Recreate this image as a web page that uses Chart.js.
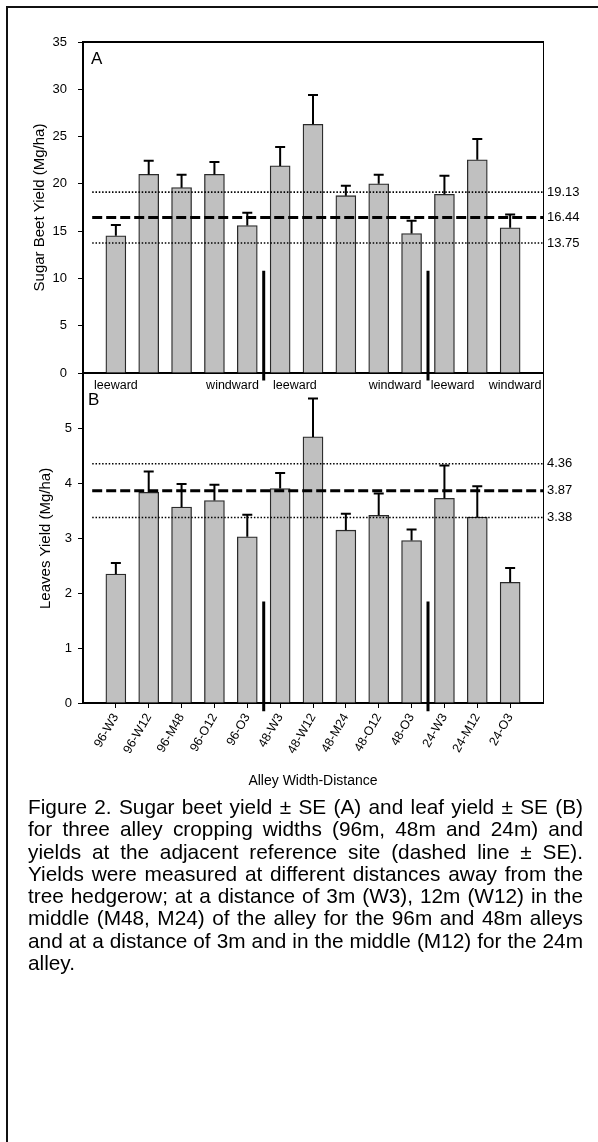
<!DOCTYPE html>
<html>
<head>
<meta charset="utf-8">
<script src="https://cdn.jsdelivr.net/npm/chart.js@4.4.1/dist/chart.umd.min.js"></script>
<style>
  html, body { margin: 0; padding: 0; background: #fff; overflow: hidden; }
  body { width: 598px; height: 1142px; position: relative; font-family: 'Liberation Sans', Arial, sans-serif; }
  .frame { position: absolute; left: 6px; top: 6px; width: 590px; height: 1136px; border-left: 2px solid #111; border-top: 2px solid #111; }
  #beetChart { position: absolute; left: 0; top: 0; }
  #leafChart { position: absolute; left: 0; top: 360px; }
  .caption { position: absolute; left: 28px; top: 796px; width: 555px; font-size: 20.8px; line-height: 22.3px; color: #000; }
  .caption div { text-align: justify; text-align-last: justify; white-space: nowrap; }
  .caption div.last { text-align-last: left; }
</style>
</head>
<body>
<div class="frame"></div>
<canvas id="beetChart" width="598" height="400"></canvas>
<canvas id="leafChart" width="598" height="440"></canvas>
<div class="caption">
  <div>Figure 2. Sugar beet yield ± SE (A) and leaf yield ± SE (B)</div>
  <div>for three alley cropping widths (96m, 48m and 24m) and</div>
  <div>yields at the adjacent reference site (dashed line ± SE).</div>
  <div>Yields were measured at different distances away from the</div>
  <div>tree hedgerow; at a distance of 3m (W3), 12m (W12) in the</div>
  <div>middle (M48, M24) of the alley for the 96m and 48m alleys</div>
  <div>and at a distance of 3m and in the middle (M12) for the 24m</div>
  <div class="last">alley.</div>
</div>
<script>
// ----------------------------------------------------------------------
// Data
// ----------------------------------------------------------------------
const categories = ['96-W3', '96-W12', '96-M48', '96-O12', '96-O3', '48-W3', '48-W12',
    '48-M24', '48-O12', '48-O3', '24-W3', '24-M12', '24-O3'];

// (A) sugar beet yield, Mg/ha
const beetYield = [14.5, 21.0, 19.6, 21.0, 15.6, 21.9, 26.3, 18.75, 20.0, 14.75, 18.9, 22.55, 15.35];
const beetSE = [1.15, 1.45, 1.35, 1.3, 1.35, 2.0, 3.1, 1.05, 0.95, 1.35, 1.95, 2.2, 1.4];

// (B) leaves yield, Mg/ha
const leafYield = [2.35, 3.84, 3.57, 3.69, 3.03, 3.91, 4.85, 3.15, 3.42, 2.96, 3.73, 3.39, 2.2];
const leafSE = [0.2, 0.38, 0.42, 0.29, 0.4, 0.28, 0.7, 0.3, 0.4, 0.2, 0.6, 0.56, 0.26];

// reference site: mean - SE, mean, mean + SE
const beetRef = [13.75, 16.44, 19.13];
const leafRef = [3.38, 3.87, 4.36];

const beetTicks = [0, 5, 10, 15, 20, 25, 30, 35];
const leafTicks = [0, 1, 2, 3, 4, 5];

const sideLabels = ['leeward', 'windward', 'leeward', 'windward', 'leeward', 'windward'];
const sideLabelAt = [0, 3.55, 5.45, 8.5, 10.25, 12.15];
const dividers = [4.5, 9.5];

const FONT = "'Liberation Sans', Arial, sans-serif";
Chart.defaults.font.family = FONT;
Chart.defaults.color = '#000';

// ----------------------------------------------------------------------
// Plugins: error bars, panel letter, leeward/windward labels
// ----------------------------------------------------------------------
const errorBars = {
    id: 'errorBars',
    afterDatasetsDraw(chart) {
        const ctx = chart.ctx;
        const yScale = chart.scales.y;
        chart.data.datasets.forEach((ds, di) => {
            if (!ds.errors) return;
            const meta = chart.getDatasetMeta(di);
            ctx.save();
            ctx.strokeStyle = '#000';
            ctx.lineWidth = 2;
            meta.data.forEach((bar, i) => {
                const top = yScale.getPixelForValue(ds.data[i].y + ds.errors[i]);
                ctx.beginPath();
                ctx.moveTo(bar.x, bar.y);
                ctx.lineTo(bar.x, top);
                ctx.moveTo(bar.x - 5, top);
                ctx.lineTo(bar.x + 5, top);
                ctx.stroke();
            });
            ctx.restore();
        });
    }
};

const panelMarks = {
    id: 'panelMarks',
    afterDraw(chart, args, opts) {
        const { ctx, chartArea } = chart;
        ctx.save();
        ctx.fillStyle = '#000';
        ctx.textBaseline = 'middle';
        ctx.textAlign = 'left';
        ctx.font = '17px ' + FONT;
        ctx.fillText(opts.letter, chartArea.left + opts.dx, chartArea.top + opts.dy);
        if (opts.sides) {
            const xScale = chart.scales.x;
            ctx.font = '12.5px ' + FONT;
            ctx.textAlign = 'center';
            sideLabels.forEach((txt, i) => {
                ctx.fillText(txt, xScale.getPixelForValue(sideLabelAt[i]), chartArea.bottom + 13);
            });
        }
        ctx.restore();
    }
};

// ----------------------------------------------------------------------
// Dataset / scale builders
// ----------------------------------------------------------------------
function barSet(values, errors) {
    return {
        type: 'bar',
        data: values.map((v, i) => ({ x: i, y: v })),
        errors: errors,
        backgroundColor: '#c0c0c0',
        borderColor: '#2a2a2a',
        borderWidth: 1.3,
        barThickness: 20,
        order: 3
    };
}

function refSets(ref) {
    const start = -0.72;
    return ref.map((v, i) => ({
        type: 'line',
        data: [{ x: start, y: v }, { x: 13, y: v }],
        borderColor: '#000',
        borderWidth: i === 1 ? 3 : 1.6,
        borderDash: i === 1 ? [10, 4] : [1.5, 1.8],
        pointRadius: 0,
        order: 2
    }));
}

function dividerSets(lo, hi) {
    return dividers.map(d => ({
        type: 'line',
        data: [{ x: d, y: hi }, { x: d, y: lo }],
        borderColor: '#000',
        borderWidth: 3,
        pointRadius: 0,
        clip: false,
        order: 1
    }));
}

function leftAxis(max, ticks, title, pad, titlePad) {
    return {
        min: 0, max: max,
        afterBuildTicks: s => { s.ticks = ticks.map(v => ({ value: v })); },
        afterFit: s => { s.width = 83; },
        border: { width: 2, color: '#000' },
        grid: { drawOnChartArea: false, drawTicks: true, tickLength: 5, color: '#000' },
        ticks: { padding: pad, font: { size: 13 }, color: '#000' },
        title: { display: true, text: title, font: { size: 15 }, color: '#000', padding: { top: titlePad, bottom: 0 } }
    };
}

function rightAxis(max, ref) {
    return {
        position: 'right', min: 0, max: max,
        afterBuildTicks: s => { s.ticks = ref.map(v => ({ value: v })); },
        afterFit: s => { s.width = 55; },
        border: { width: 1, color: '#000' },
        grid: { drawOnChartArea: false, drawTicks: false },
        ticks: { padding: 4, font: { size: 13 }, color: '#000', callback: v => v.toFixed(2) }
    };
}

const common = {
    responsive: false,
    animation: false,
    events: [],
    plugins: { legend: { display: false }, tooltip: { enabled: false } }
};

// ----------------------------------------------------------------------
// Panel A - sugar beet yield
// ----------------------------------------------------------------------
new Chart(document.getElementById('beetChart'), {
    type: 'bar',
    data: { datasets: [barSet(beetYield, beetSE), ...refSets(beetRef), ...dividerSets(-0.8, 10.8)] },
    plugins: [errorBars, panelMarks],
    options: {
        ...common,
        layout: { padding: { top: 42, bottom: 27, left: 0, right: 0 } },
        plugins: { ...common.plugins, panelMarks: { letter: 'A', dx: 8, dy: 17, sides: true } },
        scales: {
            x: {
                type: 'linear', min: -1, max: 13, offset: false,
                afterFit: s => { s.height = 0; },
                border: { width: 2, color: '#000' },
                grid: { drawOnChartArea: false, drawTicks: false, offset: false },
                ticks: { display: false }
            },
            xTop: {
                type: 'linear', position: 'top', min: -1, max: 13,
                afterFit: s => { s.height = 0; },
                border: { width: 2, color: '#000' },
                grid: { drawOnChartArea: false, drawTicks: false },
                ticks: { display: false }
            },
            y: leftAxis(35, beetTicks, 'Sugar Beet Yield (Mg/ha)', 11, 31),
            yRef: rightAxis(35, beetRef)
        }
    }
});

// ----------------------------------------------------------------------
// Panel B - leaves yield
// ----------------------------------------------------------------------
new Chart(document.getElementById('leafChart'), {
    type: 'bar',
    data: { datasets: [barSet(leafYield, leafSE), ...refSets(leafRef), ...dividerSets(-0.15, 1.85)] },
    plugins: [errorBars, panelMarks],
    options: {
        ...common,
        layout: { padding: { top: 13, bottom: 0, left: 0, right: 0 } },
        plugins: { ...common.plugins, panelMarks: { letter: 'B', dx: 5, dy: 26.5, sides: false } },
        scales: {
            x: {
                type: 'linear', min: -1, max: 13, offset: false,
                afterBuildTicks: s => { s.ticks = categories.map((c, i) => ({ value: i })); },
                afterFit: s => { s.height = 97; },
                border: { width: 2, color: '#000' },
                grid: { drawOnChartArea: false, drawTicks: true, tickLength: 5, color: '#000', offset: false },
                ticks: {
                    autoSkip: false, minRotation: 60, maxRotation: 60, padding: 3,
                    font: { size: 12.5 }, color: '#000',
                    callback: v => categories[v]
                },
                title: { display: true, text: 'Alley Width-Distance', font: { size: 14 }, color: '#000', padding: { top: 0, bottom: 10.6 } }
            },
            y: leftAxis(6, leafTicks, 'Leaves Yield (Mg/ha)', 6, 37),
            yRef: rightAxis(6, leafRef)
        }
    }
});
</script>
</body>
</html>
